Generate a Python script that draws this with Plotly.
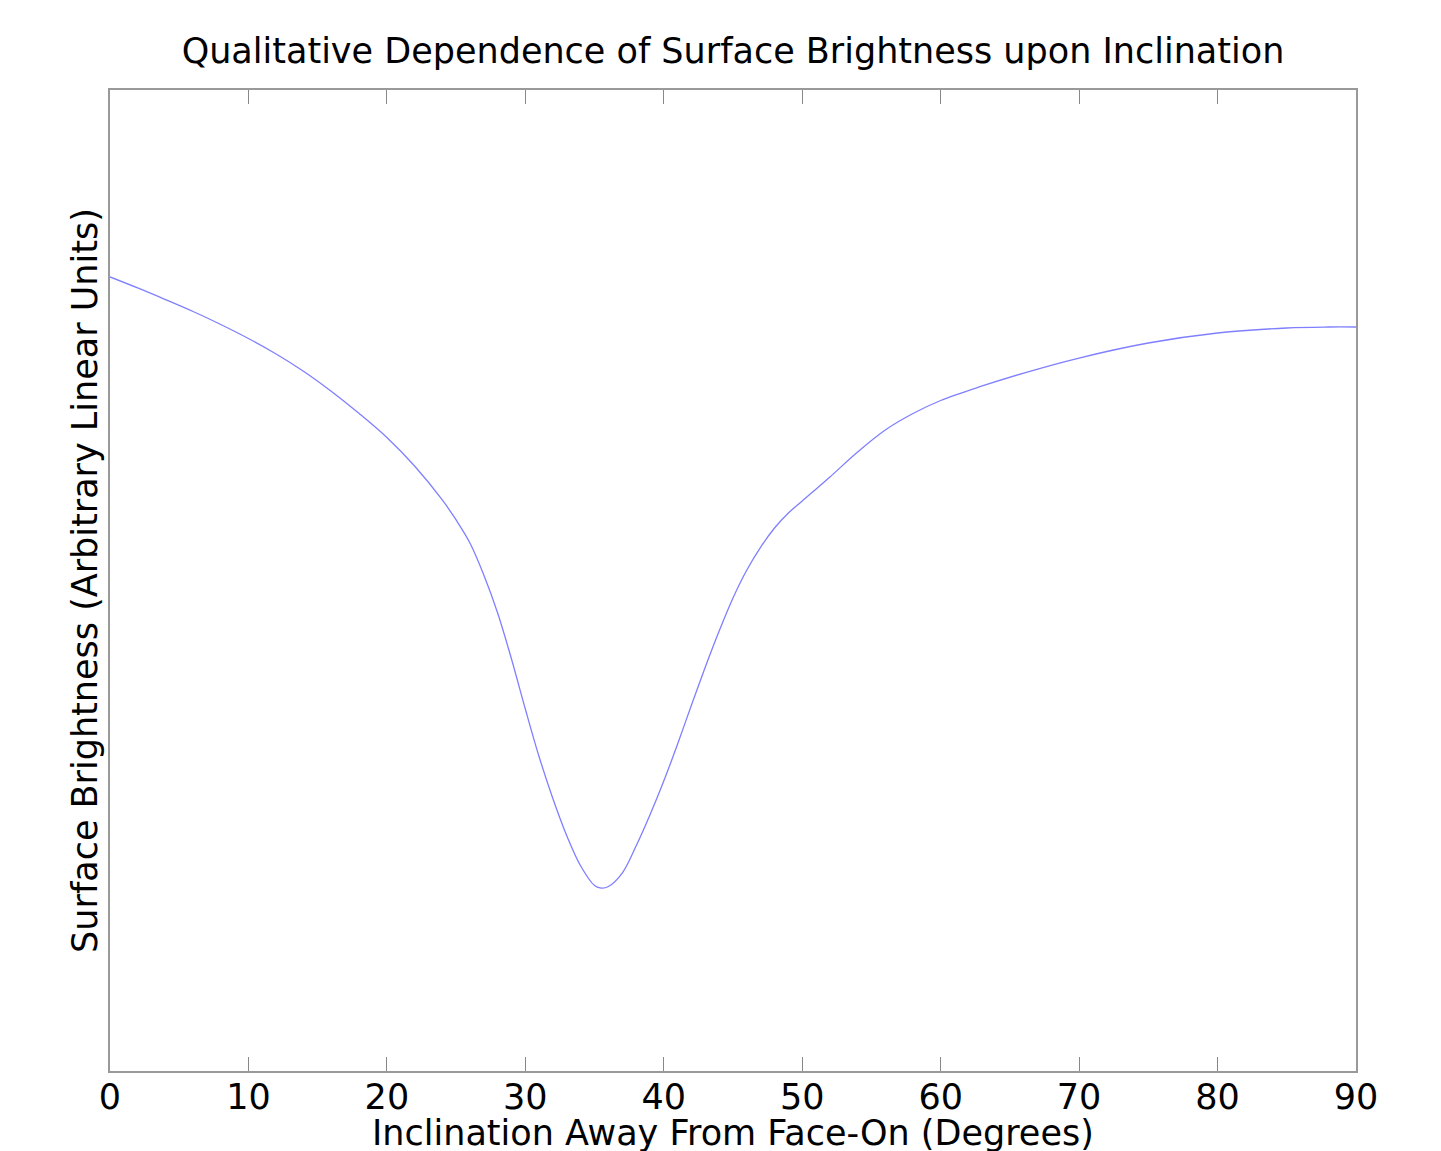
import plotly.graph_objects as go

# Inclination (degrees) and surface brightness (arbitrary linear units)
inclination = [0, 2, 4, 6, 8, 10, 12, 14, 16, 18, 20, 22, 24, 25, 26, 27, 28, 29, 30, 31,
               32, 33, 34, 35, 35.5, 36, 37, 38, 39, 40, 41, 42, 43, 44, 45, 46, 47, 48,
               49, 50, 52, 54, 56, 58, 60, 63, 66, 70, 75, 80, 85, 88, 90]
brightness = [0.8094, 0.7982, 0.7864, 0.7742, 0.7610, 0.7467, 0.7309, 0.7131, 0.6927,
              0.6702, 0.6458, 0.6167, 0.5821, 0.5617, 0.5382, 0.5056, 0.4669, 0.4200,
              0.3690, 0.3201, 0.2773, 0.2396, 0.2090, 0.1891, 0.1865, 0.1881, 0.2018,
              0.2294, 0.2610, 0.2956, 0.3333, 0.3731, 0.4118, 0.4485, 0.4822, 0.5107,
              0.5341, 0.5535, 0.5688, 0.5810, 0.6055, 0.6310, 0.6534, 0.6702, 0.6835,
              0.6983, 0.7115, 0.7268, 0.7421, 0.7523, 0.7574, 0.7584, 0.7584]
x_ticks = [0, 10, 20, 30, 40, 50, 60, 70, 80, 90]

FONT = "DejaVu Sans, sans-serif"

fig = go.Figure()
fig.add_trace(go.Scatter(
    x=inclination, y=brightness, mode="lines",
    line=dict(color="rgba(0,0,255,0.5)", width=1.3, shape="spline", smoothing=1.0),
    showlegend=False,
))

fig.update_layout(
    width=1441, height=1151,
    margin=dict(l=110, r=85, t=90, b=80),
    paper_bgcolor="white", plot_bgcolor="white",
    font=dict(family=FONT, color="black"),
    title=dict(text="Qualitative Dependence of Surface Brightness upon Inclination",
               xref="paper", x=0.5, xanchor="center", y=1 - 51 / 1151, yanchor="middle",
               font=dict(size=35, family=FONT, color="black")),
    annotations=[dict(
        text="Inclination Away From Face-On (Degrees)",
        xref="paper", yref="paper", x=0.5, y=-(1133 - 1071) / 981,
        xanchor="center", yanchor="middle", showarrow=False,
        font=dict(size=35, family=FONT, color="black"),
    )],
)
fig.update_xaxes(
    range=[0, 90], tickvals=x_ticks, ticktext=[str(t) for t in x_ticks],
    ticks="inside", ticklen=14, tickwidth=1, tickcolor="#888888",
    showline=True, linecolor="#999999", linewidth=1.5, mirror="ticks",
    showgrid=False, zeroline=False, automargin=False,
    ticklabelstandoff=-6,
    tickfont=dict(size=35, family=FONT, color="black"),
)
fig.update_yaxes(
    range=[0, 1], showticklabels=False, ticks="",
    showline=True, linecolor="#999999", linewidth=1.5, mirror=True,
    showgrid=False, zeroline=False, automargin=False,
    title=dict(text="Surface Brightness (Arbitrary Linear Units)",
               font=dict(size=35, family=FONT, color="black"), standoff=0),
)

fig.write_html("out.html")
